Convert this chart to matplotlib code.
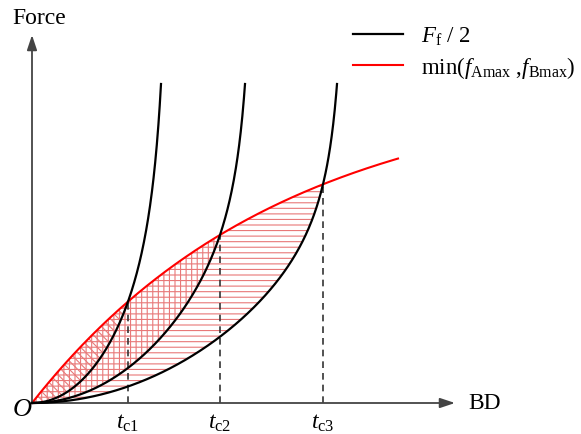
# Schematic: friction force curves vs. min(f_Amax, f_Bmax), with hatched areas
import numpy as np
import matplotlib
matplotlib.use('Agg')
from matplotlib import pyplot as plt
from matplotlib.lines import Line2D

plt.rcParams['font.family'] = ['Liberation Serif', 'DejaVu Serif']
plt.rcParams['mathtext.fontset'] = 'custom'
plt.rcParams['mathtext.rm'] = 'Liberation Serif'
plt.rcParams['mathtext.it'] = 'Liberation Serif:italic'
plt.rcParams['hatch.linewidth'] = 0.8

# %% values (1 unit ~ 1 px, origin at O)
tc = [96, 188, 291]            # crossing points t_c1..t_c3 on BD
tc_labels = [r'$t_{\mathrm{c1}}$', r'$t_{\mathrm{c2}}$', r'$t_{\mathrm{c3}}$']
top_x = [129, 213, 305]        # where each F_f/2 curve leaves the top
top_y = 319
pole_gap = 15                  # curves blow up a bit past their top point
red_amp, red_scale = 318, 250  # shape of the red (min) curve
red_end = 366
x_axis_end, y_axis_end = 423, 368

def red(x):
    return red_amp*(1 - np.exp(-x/red_scale))

# black curve: a*x^2 + b*x^2/(A-x), through (tc, red(tc)) and (xtop, top_y)
def black(x, t, xt):
    A = xt + pole_gap
    g = lambda v: v**2/(A - v)
    M = np.array([[t**2, g(t)], [xt**2, g(xt)]])
    a, b = np.linalg.solve(M, [red(t), top_y])
    return a*x**2 + b*g(x)

# %% figure
fig = plt.figure(figsize=(5.81, 4.35), dpi=100)
ax = fig.add_axes([0, 0, 1, 1])
ax.set_xlim(-32, 549)
ax.set_ylim(-31, 404)
ax.axis('off')

# hatched areas
hatch_col = '#e87878'
hatches = ['\\\\\\\\', '|||', '---']
for i in range(3):
    xs = np.linspace(0, tc[i], 200)
    ax.fill_between(xs, black(xs, tc[i], top_x[i]), red(xs), facecolor='none',
                    edgecolor=hatch_col, hatch=hatches[i], linewidth=0, zorder=1)

# curves
xr = np.linspace(0, red_end, 400)
ax.plot(xr, red(xr), color='red', lw=1.5, zorder=3)
for i in range(3):
    xs = np.linspace(0, top_x[i], 400)
    ax.plot(xs, black(xs, tc[i], top_x[i]), color='black', lw=1.6, zorder=4)

# dashed drop lines and labels
for i in range(3):
    ax.plot([tc[i], tc[i]], [0, red(tc[i])], color='#333333', lw=1.2,
            dashes=(4, 3), zorder=2)
    ax.text(tc[i], -25, tc_labels[i], ha='center', va='baseline', fontsize=17)

# axes with arrows
arrow = dict(arrowstyle='-|>,head_length=0.9,head_width=0.3',
             color='#444444', lw=1.3, shrinkA=0, shrinkB=0)
ax.annotate('', xy=(x_axis_end, 0), xytext=(0, 0), arrowprops=arrow)
ax.annotate('', xy=(0, y_axis_end), xytext=(0, 0), arrowprops=arrow)
ax.text(-20, 386, 'Force', ha='left', va='center', fontsize=17)
ax.text(436, 0, 'BD', ha='left', va='center', fontsize=17)
ax.text(-10, -6, '$O$', ha='center', va='center', fontsize=19)

# legend
handles = [Line2D([], [], color='black', lw=1.6), Line2D([], [], color='red', lw=1.5)]
labels = [r'$F_{\mathrm{f}}$ / 2', r'min($f_{\mathrm{Amax}}$ ,$f_{\mathrm{Bmax}}$)']
ax.legend(handles, labels, loc='upper left', bbox_to_anchor=(0.6076, 0.94),
          frameon=False, fontsize=16.5, handlelength=2.2, handletextpad=0.75,
          labelspacing=0.3, borderpad=0, borderaxespad=0)

fig.savefig('out.png', dpi=100)
